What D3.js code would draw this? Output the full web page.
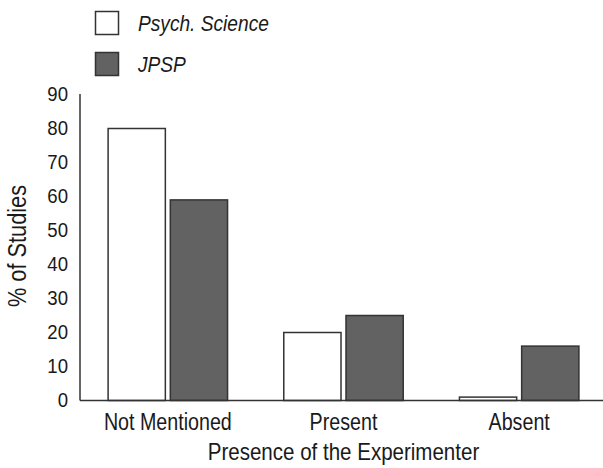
<!DOCTYPE html>
<html lang="en">
    <head>
        <meta charset="utf-8">
        <title>Presence of the Experimenter</title>
        <script src="https://d3js.org/d3.v7.min.js"></script>
        <style type="text/css">
          body{
            margin:0;
            background:#fff;
          }
          svg{
            width:603px;
            height:468px;
            display:block;
          }
          text{
            font-family: "Liberation Sans", Arial, sans-serif;
            fill:#1a1a1a;
          }
          .ticks{ font-size:20px; }
          .labels{ font-size:23px; }
          .title{ font-size:24px; }
          .ytitle{ font-size:25px; }
          .legend{ font-size:22px; font-style:italic; }
        </style>
    </head>
    <body>
        <svg></svg>

        <script type="text/javascript">

        //data
        const categories = ["Not Mentioned", "Present", "Absent"];
        const seriesNames = ["Psych. Science", "JPSP"];
        const psychScience = [80, 20, 1];
        const jpsp = [59, 25, 16];
        const yTicks = [0, 10, 20, 30, 40, 50, 60, 70, 80, 90];

        const colors = {"Psych. Science": "#ffffff", "JPSP": "#626262"};
        const strokeColor = "#333";

        //rows for the grouped bars
        const rows = categories.map((c, i) => ({
          category: c,
          values: [
            {series: "Psych. Science", value: psychScience[i]},
            {series: "JPSP", value: jpsp[i]}
          ]
        }));

        const plotLeft = 80, plotRight = 607, plotBottom = 400.5, plotTop = 94.5;

        const svg = d3.select("svg");

        //the original uses a condensed face; squeeze the glyphs horizontally
        function condense(sel, factor){
          sel.each(function(){
            const w = this.getComputedTextLength();
            d3.select(this)
              .attr("textLength", w * factor)
              .attr("lengthAdjust", "spacingAndGlyphs");
          });
        }

        const x0 = d3.scaleBand()
                     .domain(categories)
                     .range([plotLeft, plotRight])
                     .paddingInner(0.32)
                     .paddingOuter(0.16);

        const x1 = d3.scaleBand()
                     .domain(seriesNames)
                     .range([0, x0.bandwidth()])
                     .paddingInner(0.08);

        const y = d3.scaleLinear()
                    .domain([0, 90])
                    .range([plotBottom, plotTop]);

        //bars
        const groups = svg.selectAll("g.group")
                          .data(rows)
                          .enter()
                          .append("g")
                          .attr("class", "group")
                          .attr("transform", d => "translate(" + [x0(d.category), 0] + ")");

        groups.selectAll("rect")
              .data(d => d.values)
              .enter()
              .append("rect")
              .attr("x", d => x1(d.series))
              .attr("y", d => y(d.value))
              .attr("width", x1.bandwidth())
              .attr("height", d => y(0) - y(d.value))
              .attr("fill", d => colors[d.series])
              .attr("stroke", strokeColor)
              .attr("stroke-width", 1.5);

        //y axis: line only, labels without tick marks
        const yAxis = svg.append("g")
                         .attr("transform", "translate(" + plotLeft + ",0)")
                         .call(d3.axisLeft(y).tickValues(yTicks).tickSize(0).tickPadding(12));
        yAxis.select(".domain").remove();
        yAxis.attr("font-family", null).attr("font-size", null);
        yAxis.selectAll("text")
             .attr("class", "ticks")
             .attr("fill", "#1a1a1a")
             .call(condense, 0.93);

        svg.append("line")
           .attr("x1", plotLeft).attr("x2", plotLeft)
           .attr("y1", plotTop - 0.5).attr("y2", plotBottom)
           .attr("stroke", strokeColor)
           .attr("stroke-width", 1.5);

        //x axis
        const xAxis = svg.append("g")
                         .attr("transform", "translate(0," + plotBottom + ")")
                         .call(d3.axisBottom(x0).tickSize(0).tickPadding(13));
        xAxis.select(".domain").remove();
        xAxis.attr("font-family", null).attr("font-size", null);
        xAxis.selectAll("text")
             .attr("class", "labels")
             .attr("fill", "#1a1a1a")
             .attr("dy", "0.71em")
             .call(condense, 0.855);

        svg.append("line")
           .attr("x1", plotLeft).attr("x2", 603)
           .attr("y1", plotBottom).attr("y2", plotBottom)
           .attr("stroke", strokeColor)
           .attr("stroke-width", 1.5);

        //axis titles
        svg.append("text")
           .attr("class", "title")
           .attr("x", (plotLeft + plotRight) / 2)
           .attr("y", 460)
           .attr("text-anchor", "middle")
           .text("Presence of the Experimenter")
           .call(condense, 0.855);

        svg.append("text")
           .attr("class", "ytitle")
           .attr("transform", "translate(26," + 246 + ") rotate(-90)")
           .attr("text-anchor", "middle")
           .text("% of Studies")
           .call(condense, 0.87);

        //legend
        const legend = svg.selectAll("g.legend-item")
                          .data(seriesNames)
                          .enter()
                          .append("g")
                          .attr("class", "legend-item")
                          .attr("transform", (d, i) => "translate(" + [95.5, 11.5 + i * 41] + ")");

        legend.append("rect")
              .attr("width", 23)
              .attr("height", 23)
              .attr("fill", d => colors[d])
              .attr("stroke", strokeColor)
              .attr("stroke-width", 1.5);

        legend.append("text")
              .attr("class", "legend")
              .attr("x", 42.5)
              .attr("y", 11.5)
              .attr("dy", "0.35em")
              .text(d => d)
              .call(condense, 0.87);
        </script>
    </body>
</html>
